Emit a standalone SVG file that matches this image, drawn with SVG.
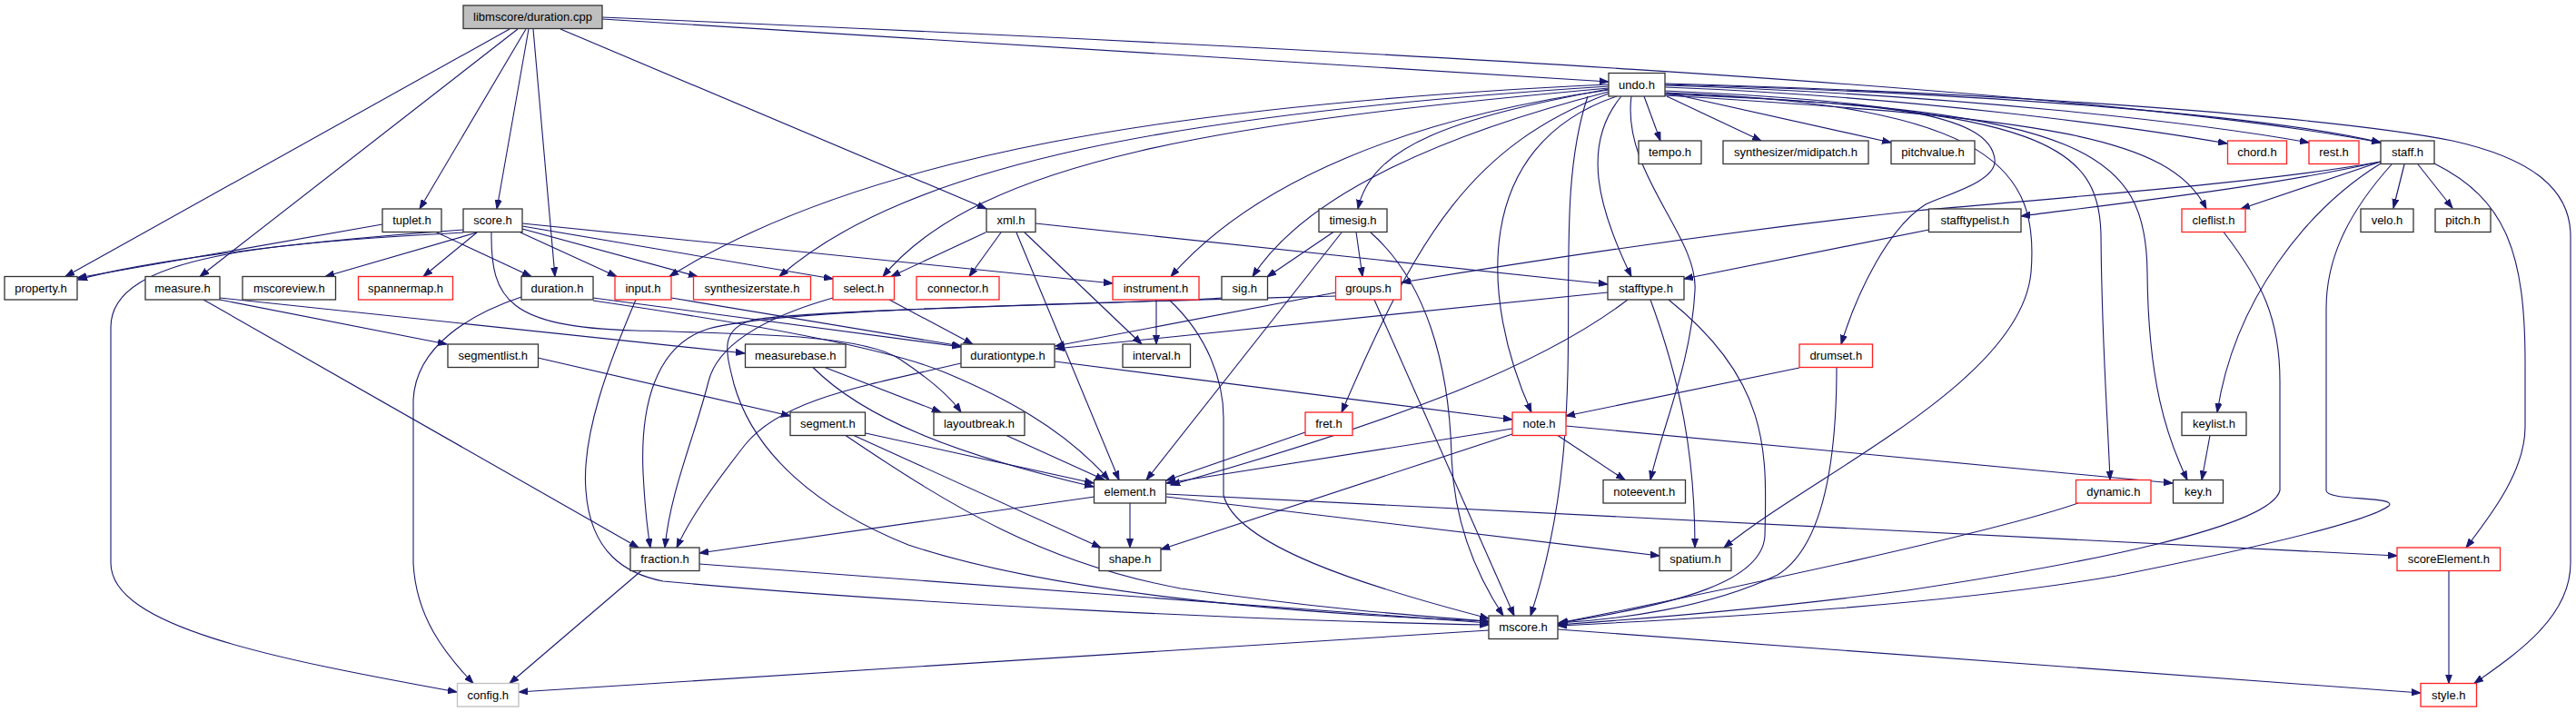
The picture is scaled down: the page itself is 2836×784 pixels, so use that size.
<svg xmlns="http://www.w3.org/2000/svg" width="2836" height="784" viewBox="0 0 2836 784">
<style>
.n rect{fill:#fff;stroke:#333;stroke-width:1.3}
.n.r rect{stroke:#ff2020}
.n.g rect{stroke:#bfbfbf}
.n.root rect{fill:#bfbfbf}
.n text{font-family:"Liberation Sans",Arial,sans-serif;font-size:13px;fill:#000;text-anchor:middle}
#edges path{fill:none;stroke:#191970;stroke-width:1.1;marker-end:url(#a)}
</style>
<defs>
<marker id="a" markerWidth="11" markerHeight="8" refX="10" refY="4" orient="auto" markerUnits="userSpaceOnUse">
<path d="M0,0.5 L10,4 L0,7.5 z" fill="#191970" stroke="#191970" stroke-width="1"/>
</marker>
</defs>
<rect width="2836" height="784" fill="#fff"/>
<g id="edges">
<path d="M561,32 L72,304.5"/>
<path d="M570,32 L220,304.5"/>
<path d="M579,32 L462,230"/>
<path d="M582,32 L547,230"/>
<path d="M587,32 L611,304.5"/>
<path d="M617,32 L1086,230"/>
<path d="M663,21 L1771,90"/>
<path d="M663,19 C1400,50 2300,95 2621,157"/>
<path d="M421,247 L85,306"/>
<path d="M480,255.5 L585,304.5"/>
<path d="M510,253 C300,268 150,290 86,308"/>
<path d="M510,256 C300,268 122,280 122,360 L122,620 C122,690 300,725 503,762"/>
<path d="M525,256 L358,304.5"/>
<path d="M525,256 L466,304.5"/>
<path d="M573,256 L679,304.5"/>
<path d="M575,252 L768,304.5"/>
<path d="M575,249 L917,307"/>
<path d="M575,246 L1225,312"/>
<path d="M541,256 C540,330 560,360 700,364 C850,368 950,370 990,395 C1020,415 1045,435 1058,454"/>
<path d="M1085,256 L981,304.5"/>
<path d="M1102,256 L1067,304.5"/>
<path d="M1119,256 L1232,528.5"/>
<path d="M1128,256 L1257,379"/>
<path d="M1140,246 L1770,313"/>
<path d="M1810,106 L1828,155"/>
<path d="M1835,106 L1939,155"/>
<path d="M1835,102 L2082,157"/>
<path d="M1833,96 C2100,106 2350,140 2452,158"/>
<path d="M1833,94 C2150,104 2420,135 2542,157"/>
<path d="M1833,93 C2200,103 2500,128 2621,157"/>
<path d="M1785,106 C1740,160 1760,230 1796,304.5"/>
<path d="M1771,98 C1600,130 1510,160 1495,230"/>
<path d="M1771,99 C1550,130 1380,200 1289,304.5"/>
<path d="M1771,101 C1600,145 1440,210 1379,304.5"/>
<path d="M1771,97 C1350,135 1080,175 972,304.5"/>
<path d="M1771,95 C1300,125 1000,180 858,304.5"/>
<path d="M1771,93 C1300,115 950,170 737,304.5"/>
<path d="M1771,103 C1620,160 1560,260 1477,454"/>
<path d="M1780,106 C1620,160 1630,330 1686,454"/>
<path d="M1748,106 C1700,250 1760,450 1685,678"/>
<path d="M1796,106 C1785,190 1870,260 1866,320 C1862,400 1830,470 1817,528.5"/>
<path d="M1833,100 C2100,112 2190,130 2196,175 C2200,200 2140,215 2120,225 C2080,250 2045,320 2027,379"/>
<path d="M1833,102 C2200,115 2245,190 2236,300 C2225,420 2000,520 1898,603"/>
<path d="M1833,103 C2250,120 2312,160 2313,260 C2314,380 2320,450 2323,528.5"/>
<path d="M1833,104 C2300,120 2363,170 2364,300 C2365,420 2385,480 2408,528.5"/>
<path d="M1833,105 C2250,130 2390,150 2429,230"/>
<path d="M1833,92 C2300,105 2600,135 2700,155 C2790,175 2830,210 2830,260 L2830,620 C2830,680 2770,720 2724,752.5"/>
<path d="M2621,180 C2540,230 2460,330 2441,454"/>
<path d="M2633,181 C2580,240 2561,290 2561,340 L2561,540 C2561,552 2640,546 2630,557 C2600,580 2400,620 2330,634 C2150,665 1900,680 1715,689"/>
<path d="M2662,181 L2700,229"/>
<path d="M2647,181 L2635,229"/>
<path d="M2621,178 L2467,230"/>
<path d="M2621,178 C2500,205 2350,222 2225,238"/>
<path d="M2621,178 C2500,200 2300,215 2110,232 C1900,255 1700,285 1543,311"/>
<path d="M2680,180 C2760,220 2780,280 2780,400 L2780,470 C2780,520 2740,570 2715,603"/>
<path d="M2123.5,253 L1854,307"/>
<path d="M2448,255.5 C2490,310 2510,350 2510,420 L2510,540 C2500,580 2300,620 2100,650 C1950,670 1800,682 1715,688"/>
<path d="M1468,255.5 L1395,305"/>
<path d="M1493,255.5 L1500,304.5"/>
<path d="M1477,256 L1262,528.5"/>
<path d="M1509,256 C1570,310 1595,400 1598,500 C1600,580 1630,640 1655,678"/>
<path d="M1513,330 L1667,678"/>
<path d="M1471,322 L1162,381"/>
<path d="M1471,326 C1100,336 850,342 780,362 C720,380 705,450 708,520 C710,560 713,585 716,603"/>
<path d="M1770,322 L1162,384"/>
<path d="M1792,330 C1700,400 1550,460 1289,534"/>
<path d="M1817,330 C1850,420 1866,500 1866,603"/>
<path d="M1837,330 C1950,420 1945,500 1943,590 C1940,640 1850,665 1716,686"/>
<path d="M1273,330 L1273,379"/>
<path d="M1287,330 C1330,370 1347,420 1347,460 L1347,545 C1360,600 1500,645 1639,681"/>
<path d="M1345,328 C1300,333 900,340 830,352 C790,362 800,390 808,423 C830,500 900,560 1000,600 C1150,650 1400,675 1639,684"/>
<path d="M979,330 L1071,379"/>
<path d="M917,328 C840,350 790,380 780,420 C765,480 738,540 732,603"/>
<path d="M739,328 L1058,381"/>
<path d="M700,330 C670,400 640,480 645,540 C650,610 690,632 730,640 C1000,665 1400,684 1639,688"/>
<path d="M653,328 L1058,382"/>
<path d="M574,327 C520,345 458,380 455,440 L455,620 C458,680 490,720 521,752.5"/>
<path d="M653,331 C850,360 980,385 1040,410 C1100,435 1170,470 1221,528.5"/>
<path d="M242,328 L820,389"/>
<path d="M242,330 L492,379"/>
<path d="M224,330 L703,603"/>
<path d="M592,394 L870,458"/>
<path d="M908,404.5 L1036,454"/>
<path d="M895,404.5 C950,460 1050,500 1204,536"/>
<path d="M1058,400 C950,425 860,440 820,490 C785,535 760,570 745,603"/>
<path d="M1161,398 L1665,462"/>
<path d="M953,477 L1204,532"/>
<path d="M940,479.5 L1212,603"/>
<path d="M931,479.5 C1050,560 1150,620 1300,648 C1450,670 1560,678 1639,684"/>
<path d="M1108,479.5 L1216,528.5"/>
<path d="M1437,476 L1284,529"/>
<path d="M1665,472 L1284,532"/>
<path d="M1665,478 L1278,605"/>
<path d="M1715,479.5 L1789,528.5"/>
<path d="M1724,469 L2392,532"/>
<path d="M1981,405 L1724,458"/>
<path d="M2022,404.5 C2022,500 2010,600 1957,633 C1880,670 1780,682 1716,686"/>
<path d="M2433,479.5 L2424,528.5"/>
<path d="M2288,554 C2200,585 1900,650 1716,686"/>
<path d="M1244,554 L1244,603"/>
<path d="M1205,547 L770,609"/>
<path d="M1284,547 L1827,612"/>
<path d="M1284,544 L2639,612"/>
<path d="M770,621 L1639,686"/>
<path d="M706,628.5 L561,752.5"/>
<path d="M1639,694 L571,762"/>
<path d="M1715,693 L2665,763"/>
<path d="M2696,628.5 L2696,752.5"/>
</g>
<g id="n_dcpp" class="n root"><rect x="510" y="6" width="153" height="25.5"/><text x="586.5" y="23.3">libmscore/duration.cpp</text></g>
<g id="n_undo" class="n"><rect x="1771" y="80.5" width="62" height="25.5"/><text x="1802" y="97.8">undo.h</text></g>
<g id="n_tempo" class="n"><rect x="1804" y="155" width="69" height="25.5"/><text x="1838.5" y="172.3">tempo.h</text></g>
<g id="n_midipatch" class="n"><rect x="1897" y="155" width="160" height="25.5"/><text x="1977" y="172.3">synthesizer/midipatch.h</text></g>
<g id="n_pitchvalue" class="n"><rect x="2082" y="155" width="92" height="25.5"/><text x="2128" y="172.3">pitchvalue.h</text></g>
<g id="n_chord" class="n r"><rect x="2452.5" y="155" width="65" height="25.5"/><text x="2485" y="172.3">chord.h</text></g>
<g id="n_rest" class="n r"><rect x="2542" y="155" width="55" height="25.5"/><text x="2569.5" y="172.3">rest.h</text></g>
<g id="n_staff" class="n"><rect x="2621" y="155" width="59" height="25.5"/><text x="2650.5" y="172.3">staff.h</text></g>
<g id="n_tuplet" class="n"><rect x="421" y="230" width="65" height="25.5"/><text x="453.5" y="247.3">tuplet.h</text></g>
<g id="n_score" class="n"><rect x="510" y="230" width="65" height="25.5"/><text x="542.5" y="247.3">score.h</text></g>
<g id="n_xml" class="n"><rect x="1086" y="230" width="54" height="25.5"/><text x="1113" y="247.3">xml.h</text></g>
<g id="n_timesig" class="n"><rect x="1452" y="230" width="75" height="25.5"/><text x="1489.5" y="247.3">timesig.h</text></g>
<g id="n_stafftypelist" class="n"><rect x="2123.5" y="230" width="101.5" height="25.5"/><text x="2174.3" y="247.3">stafftypelist.h</text></g>
<g id="n_cleflist" class="n r"><rect x="2402" y="230" width="70" height="25.5"/><text x="2437" y="247.3">cleflist.h</text></g>
<g id="n_velo" class="n"><rect x="2599" y="230" width="58" height="25.5"/><text x="2628" y="247.3">velo.h</text></g>
<g id="n_pitch" class="n"><rect x="2681" y="230" width="61" height="25.5"/><text x="2711.5" y="247.3">pitch.h</text></g>
<g id="n_property" class="n"><rect x="5" y="304.5" width="80" height="25.5"/><text x="45" y="321.8">property.h</text></g>
<g id="n_measure" class="n"><rect x="160" y="304.5" width="82" height="25.5"/><text x="201" y="321.8">measure.h</text></g>
<g id="n_mscoreview" class="n"><rect x="267" y="304.5" width="102.5" height="25.5"/><text x="318.3" y="321.8">mscoreview.h</text></g>
<g id="n_spannermap" class="n r"><rect x="394.5" y="304.5" width="104" height="25.5"/><text x="446.5" y="321.8">spannermap.h</text></g>
<g id="n_duration" class="n"><rect x="574" y="304.5" width="79" height="25.5"/><text x="613.5" y="321.8">duration.h</text></g>
<g id="n_input" class="n r"><rect x="677" y="304.5" width="62" height="25.5"/><text x="708" y="321.8">input.h</text></g>
<g id="n_synthesizerstate" class="n r"><rect x="763.5" y="304.5" width="129" height="25.5"/><text x="828" y="321.8">synthesizerstate.h</text></g>
<g id="n_select" class="n r"><rect x="917" y="304.5" width="67.5" height="25.5"/><text x="950.8" y="321.8">select.h</text></g>
<g id="n_connector" class="n r"><rect x="1009" y="304.5" width="91" height="25.5"/><text x="1054.5" y="321.8">connector.h</text></g>
<g id="n_instrument" class="n r"><rect x="1225" y="304.5" width="95" height="25.5"/><text x="1272.5" y="321.8">instrument.h</text></g>
<g id="n_sig" class="n"><rect x="1345" y="304.5" width="50.5" height="25.5"/><text x="1370.3" y="321.8">sig.h</text></g>
<g id="n_groups" class="n r"><rect x="1470.5" y="304.5" width="72" height="25.5"/><text x="1506.5" y="321.8">groups.h</text></g>
<g id="n_stafftype" class="n"><rect x="1770" y="304.5" width="84" height="25.5"/><text x="1812" y="321.8">stafftype.h</text></g>
<g id="n_segmentlist" class="n"><rect x="493" y="379" width="99.5" height="25.5"/><text x="542.8" y="396.3">segmentlist.h</text></g>
<g id="n_measurebase" class="n"><rect x="820.5" y="379" width="110.5" height="25.5"/><text x="875.8" y="396.3">measurebase.h</text></g>
<g id="n_durationtype" class="n"><rect x="1058" y="379" width="103" height="25.5"/><text x="1109.5" y="396.3">durationtype.h</text></g>
<g id="n_interval" class="n"><rect x="1236" y="379" width="74.5" height="25.5"/><text x="1273.3" y="396.3">interval.h</text></g>
<g id="n_drumset" class="n r"><rect x="1981" y="379" width="80.5" height="25.5"/><text x="2021.3" y="396.3">drumset.h</text></g>
<g id="n_segment" class="n"><rect x="870" y="454" width="82.5" height="25.5"/><text x="911.3" y="471.3">segment.h</text></g>
<g id="n_layoutbreak" class="n"><rect x="1028" y="454" width="100" height="25.5"/><text x="1078" y="471.3">layoutbreak.h</text></g>
<g id="n_fret" class="n r"><rect x="1437" y="454" width="52" height="25.5"/><text x="1463" y="471.3">fret.h</text></g>
<g id="n_note" class="n r"><rect x="1665" y="454" width="59" height="25.5"/><text x="1694.5" y="471.3">note.h</text></g>
<g id="n_keylist" class="n"><rect x="2402" y="454" width="71" height="25.5"/><text x="2437.5" y="471.3">keylist.h</text></g>
<g id="n_element" class="n"><rect x="1204.5" y="528.5" width="79" height="25.5"/><text x="1244" y="545.8">element.h</text></g>
<g id="n_noteevent" class="n"><rect x="1765" y="528.5" width="90.5" height="25.5"/><text x="1810.3" y="545.8">noteevent.h</text></g>
<g id="n_dynamic" class="n r"><rect x="2285.5" y="528.5" width="82.5" height="25.5"/><text x="2326.8" y="545.8">dynamic.h</text></g>
<g id="n_key" class="n"><rect x="2392.5" y="528.5" width="55" height="25.5"/><text x="2420" y="545.8">key.h</text></g>
<g id="n_fraction" class="n"><rect x="694" y="603" width="76" height="25.5"/><text x="732" y="620.3">fraction.h</text></g>
<g id="n_shape" class="n"><rect x="1210" y="603" width="68" height="25.5"/><text x="1244" y="620.3">shape.h</text></g>
<g id="n_spatium" class="n"><rect x="1827" y="603" width="79" height="25.5"/><text x="1866.5" y="620.3">spatium.h</text></g>
<g id="n_scoreElement" class="n r"><rect x="2639" y="603" width="113.5" height="25.5"/><text x="2695.8" y="620.3">scoreElement.h</text></g>
<g id="n_mscore" class="n"><rect x="1639" y="678" width="76" height="25.5"/><text x="1677" y="695.3">mscore.h</text></g>
<g id="n_config" class="n g"><rect x="503.5" y="752.5" width="67.5" height="25.5"/><text x="537.3" y="769.8">config.h</text></g>
<g id="n_style" class="n r"><rect x="2665" y="752.5" width="61.5" height="25.5"/><text x="2695.8" y="769.8">style.h</text></g>
</svg>
